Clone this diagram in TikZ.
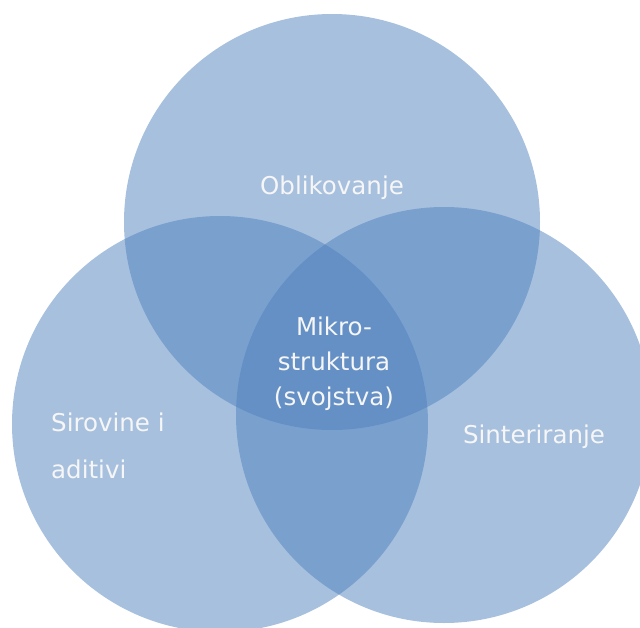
\documentclass[tikz,border=0pt]{standalone}
\usepackage{fontspec}
\setmainfont{DejaVu Sans}
\definecolor{vennblue}{RGB}{79,129,189}
\definecolor{vtext}{RGB}{246,246,246}
\begin{document}
\begin{tikzpicture}[x=1pt,y=-1pt,
  venn/.style={circle, inner sep=0pt, minimum size=416pt, fill=vennblue, fill opacity=0.5, draw=none},
  lbl/.style={text=vtext, font=\fontsize{24.5}{35}\selectfont, align=center, inner sep=0pt}]
\useasboundingbox (0,0) rectangle (640,627);
\clip (0,0) rectangle (640,627);
\node[venn] (top) at (332,222) {};
\node[venn] (left) at (220,424) {};
\node[venn] (right) at (444,415) {};
\node[lbl] (obl) at (332,188) {Oblikovanje};
\node[lbl] (mik) at (334,364) {Mikro-\\struktura\\(svojstva)};
\node[lbl, anchor=west] (sir) at (51,422) {Sirovine i};
\node[lbl, anchor=west] (adi) at (51,469) {aditivi};
\node[lbl] (sin) at (534,437) {Sinteriranje};
\end{tikzpicture}
\end{document}
